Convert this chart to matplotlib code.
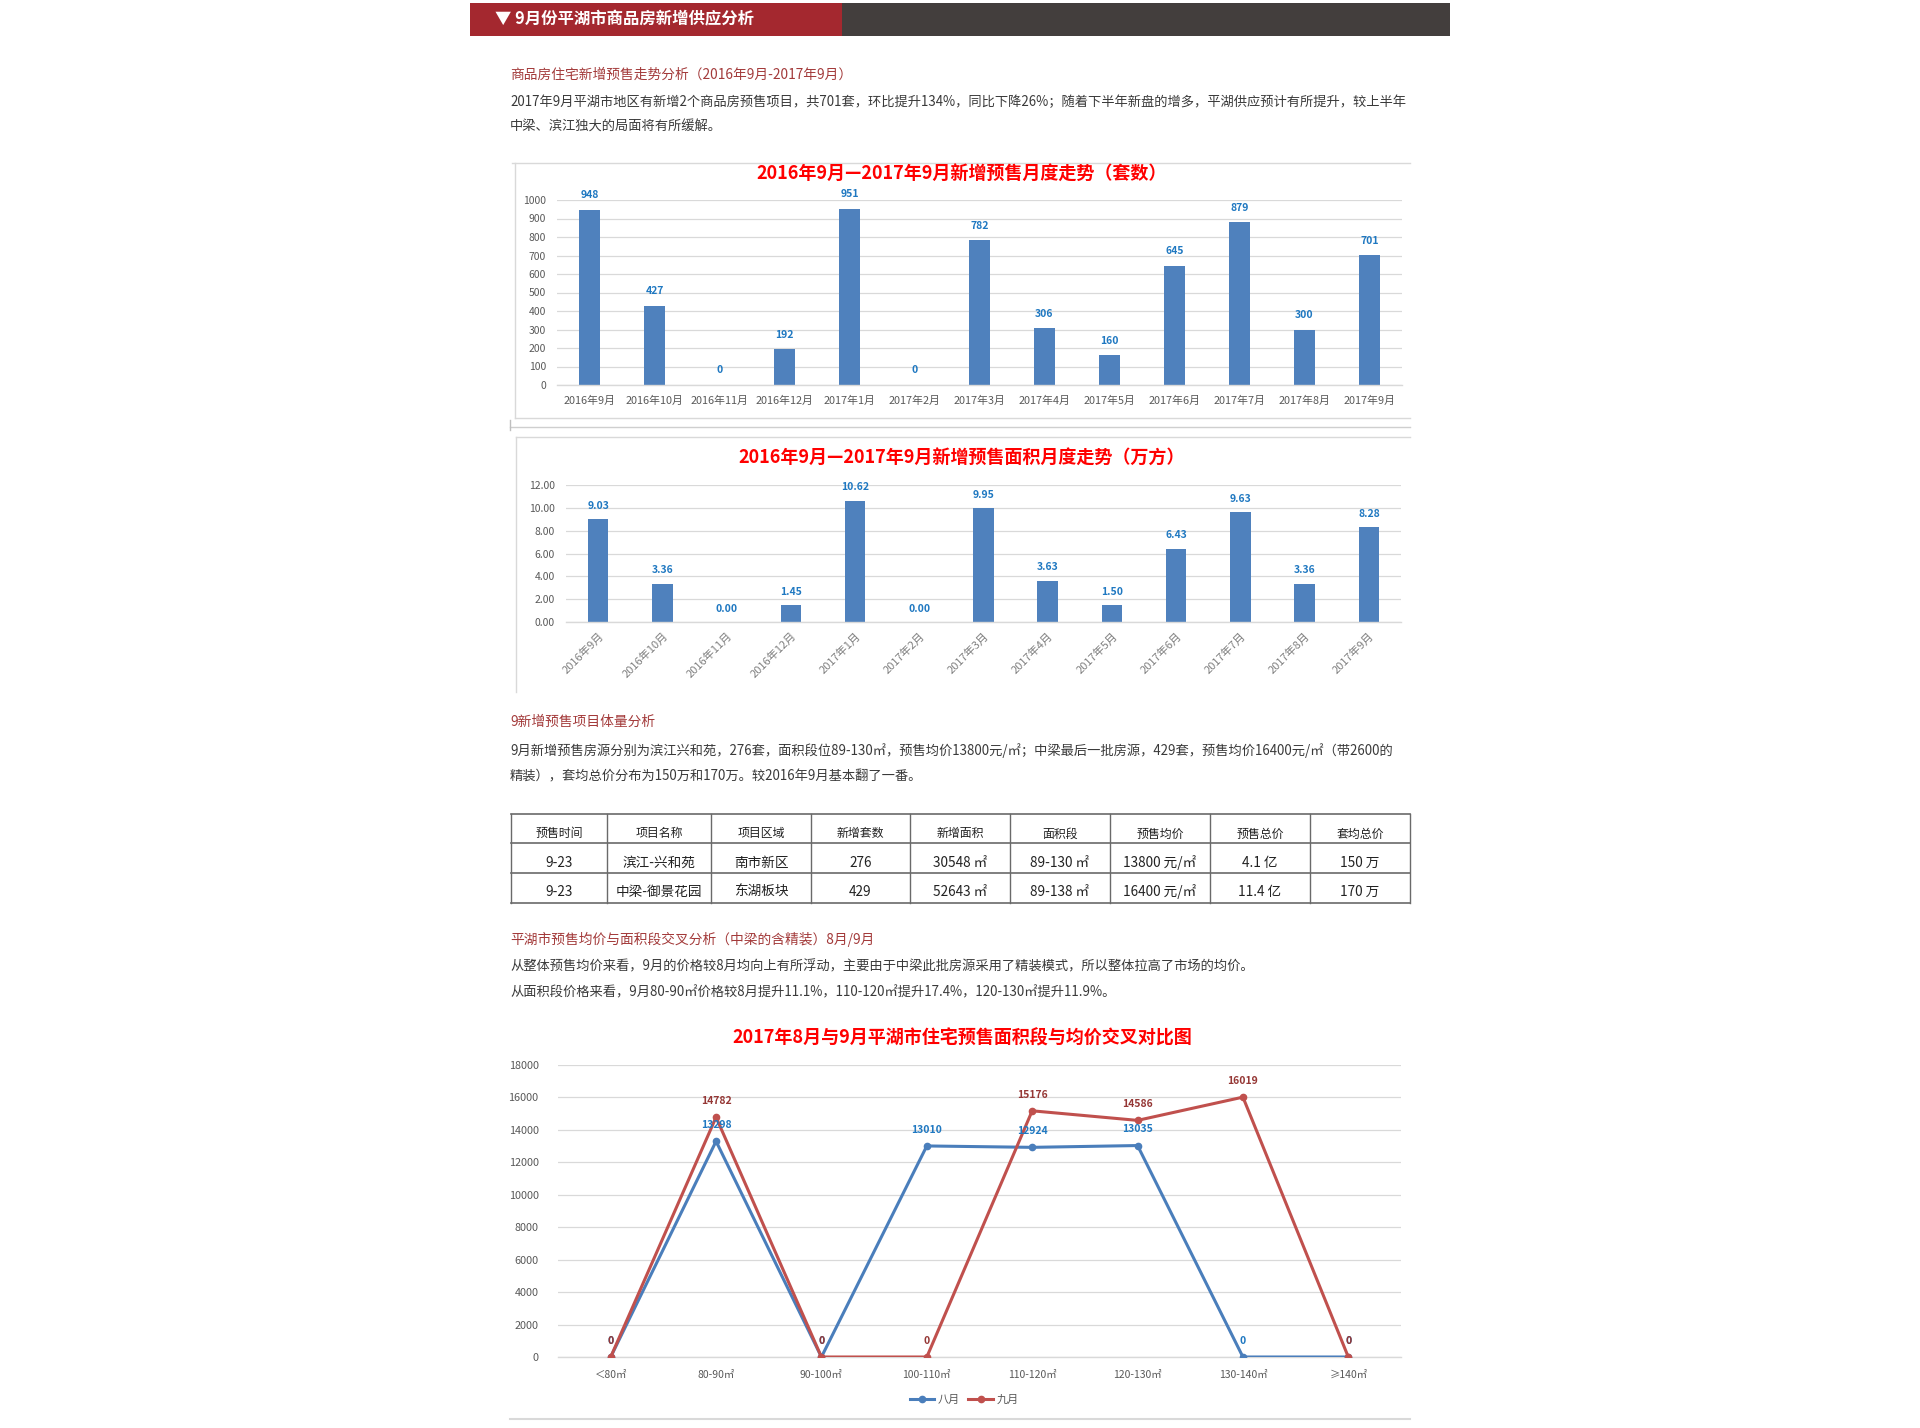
import matplotlib
matplotlib.use("Agg")
import matplotlib.pyplot as plt
from matplotlib.patches import Rectangle
from matplotlib.lines import Line2D

plt.rcParams['font.family'] = ['Noto Sans CJK SC', 'DejaVu Sans']

# ---------------- data ----------------
months = ["2016年9月", "2016年10月", "2016年11月", "2016年12月", "2017年1月", "2017年2月",
          "2017年3月", "2017年4月", "2017年5月", "2017年6月", "2017年7月", "2017年8月", "2017年9月"]
units = [948, 427, 0, 192, 951, 0, 782, 306, 160, 645, 879, 300, 701]
areas = [9.03, 3.36, 0.00, 1.45, 10.62, 0.00, 9.95, 3.63, 1.50, 6.43, 9.63, 3.36, 8.28]

segments = ["＜80㎡", "80-90㎡", "90-100㎡", "100-110㎡", "110-120㎡", "120-130㎡", "130-140㎡", "≥140㎡"]
aug_price = [0, 13298, 0, 13010, 12924, 13035, 0, 0]
sep_price = [0, 14782, 0, 0, 15176, 14586, 16019, 0]

table_header = ["预售时间", "项目名称", "项目区域", "新增套数", "新增面积", "面积段", "预售均价", "预售总价", "套均总价"]
table_rows = [
    ["9-23", "滨江-兴和苑", "南市新区", "276", "30548 ㎡", "89-130 ㎡", "13800 元/㎡", "4.1 亿", "150 万"],
    ["9-23", "中梁-御景花园", "东湖板块", "429", "52643 ㎡", "89-138 ㎡", "16400 元/㎡", "11.4 亿", "170 万"],
]

header_title = "▼ 9月份平湖市商品房新增供应分析"
sec1_title = "商品房住宅新增预售走势分析（2016年9月-2017年9月）"
sec1_lines = ["2017年9月平湖市地区有新增2个商品房预售项目，共701套，环比提升134%，同比下降26%；随着下半年新盘的增多，平湖供应预计有所提升，较上半年",
              "中梁、滨江独大的局面将有所缓解。"]
sec2_title = "9新增预售项目体量分析"
sec2_lines = ["9月新增预售房源分别为滨江兴和苑，276套，面积段位89-130㎡，预售均价13800元/㎡；中梁最后一批房源，429套，预售均价16400元/㎡（带2600的",
              "精装），套均总价分布为150万和170万。较2016年9月基本翻了一番。"]
sec3_title = "平湖市预售均价与面积段交叉分析（中梁的含精装）8月/9月"
sec3_lines = ["从整体预售均价来看，9月的价格较8月均向上有所浮动，主要由于中梁此批房源采用了精装模式，所以整体拉高了市场的均价。",
              "从面积段价格来看，9月80-90㎡价格较8月提升11.1%，110-120㎡提升17.4%，120-130㎡提升11.9%。"]

chart1_title = "2016年9月—2017年9月新增预售月度走势（套数）"
chart2_title = "2016年9月—2017年9月新增预售面积月度走势（万方）"
chart3_title = "2017年8月与9月平湖市住宅预售面积段与均价交叉对比图"

# ---------------- layout helpers ----------------
W, H = 1920, 1428
fig = plt.figure(figsize=(W / 100, H / 100), dpi=100)
fig.patch.set_facecolor("white")

bg = fig.add_axes([0, 0, 1, 1])
bg.set_xlim(0, W)
bg.set_ylim(H, 0)
bg.axis("off")


def add_ax(x0, y0, x1, y1):
    a = fig.add_axes([x0 / W, 1 - y1 / H, (x1 - x0) / W, (y1 - y0) / H])
    a.set_facecolor("none")
    return a


def hline(y, x0, x1, color="#d9d9d9", lw=1.0):
    bg.add_line(Line2D([x0, x1], [y, y], color=color, lw=lw))


def vline(x, y0, y1, color="#d9d9d9", lw=1.0):
    bg.add_line(Line2D([x, x], [y0, y1], color=color, lw=lw))


BAR = "#4f81bd"
LBL = "#1f78c1"
GRID = "#d9d9d9"
TICK = "#595959"
SEC = "#a33a3a"
BODY = "#3a3a3a"

# ---------------- header bar ----------------
bg.add_patch(Rectangle((470, 2.5), 372, 33, color="#a4282f", lw=0))
bg.add_patch(Rectangle((842, 2.5), 608, 33, color="#433e3d", lw=0))
bg.text(495, 19.5, header_title, color="white", fontsize=11.8, fontweight="bold", va="center", ha="left")

# ---------------- text sections ----------------
BODY_FS = 9.55
bg.text(510, 75, sec1_title, color=SEC, fontsize=9.9, va="center")
for i, s in enumerate(sec1_lines):
    bg.text(510, 102 + 25 * i, s, color=BODY, fontsize=BODY_FS, va="center")

bg.text(510, 722, sec2_title, color=SEC, fontsize=9.9, va="center")
for i, s in enumerate(sec2_lines):
    bg.text(510, 751 + 25 * i, s, color=BODY, fontsize=BODY_FS, va="center")

bg.text(510, 939, sec3_title, color=SEC, fontsize=9.9, va="center")
for i, s in enumerate(sec3_lines):
    bg.text(510, 966 + 26 * i, s, color=BODY, fontsize=BODY_FS, va="center")

# ---------------- chart frames ----------------
hline(163, 512, 1410)
vline(515, 163, 418)
hline(418, 515, 1410)
hline(427, 510, 1410, color="#cfcfcf")
vline(510, 420, 430, color="#bfbfbf")
hline(437, 516, 1410)
vline(516, 437, 692)
hline(1419, 510, 1410, color="#d9d9d9", lw=1.5)


def style_axes(a):
    for s in ["left", "right", "top"]:
        a.spines[s].set_visible(False)
    a.spines["bottom"].set_color(GRID)
    a.spines["bottom"].set_linewidth(1.0)
    a.tick_params(length=0, colors=TICK, labelsize=7.5)
    a.grid(axis="y", color=GRID, lw=0.9)
    a.set_axisbelow(True)


# ---------------- chart 1 ----------------
ax1 = add_ax(557, 200, 1402, 385)
x = list(range(len(months)))
ax1.bar(x, units, width=0.32, color=BAR, zorder=2)
ax1.set_xlim(-0.5, len(months) - 0.5)
ax1.set_ylim(0, 1000)
ax1.set_yticks(range(0, 1001, 100))
ax1.set_xticks(x)
ax1.set_xticklabels(months)
style_axes(ax1)
ax1.tick_params(axis="x", pad=8, labelsize=7.8)
ax1.tick_params(axis="y", pad=8)
for xi, v in zip(x, units):
    ax1.annotate(str(v), (xi, v), xytext=(0, 7), textcoords="offset points",
                 ha="center", va="bottom", color=LBL, fontsize=7.5, fontweight="bold")
bg.text(962, 173, chart1_title, color="#ff0000", fontsize=13, fontweight="bold", ha="center", va="center")

# ---------------- chart 2 ----------------
ax2 = add_ax(566, 485, 1401, 622)
ax2.bar(x, areas, width=0.32, color=BAR, zorder=2)
ax2.set_xlim(-0.5, len(months) - 0.5)
ax2.set_ylim(0, 12)
ax2.set_yticks(range(0, 13, 2))
ax2.set_yticklabels([f"{t:.2f}" for t in range(0, 13, 2)])
ax2.set_xticks(x)
ax2.set_xticklabels(months, rotation=45, ha="right", rotation_mode="anchor", style="italic")
style_axes(ax2)
ax2.tick_params(axis="x", pad=6, colors="#7f7f7f", labelsize=8)
ax2.tick_params(axis="y", pad=8)
for xi, v in zip(x, areas):
    ax2.annotate(f"{v:.2f}", (xi, v), xytext=(0, 6), textcoords="offset points",
                 ha="center", va="bottom", color=LBL, fontsize=7.5, fontweight="bold")
bg.text(962, 458, chart2_title, color="#ff0000", fontsize=13, fontweight="bold", ha="center", va="center")

# ---------------- table ----------------
col_x = [511, 607, 711, 811, 910, 1010, 1110, 1210, 1310, 1410]
row_y = [814, 843, 873, 903]
TB = "#6a6a6a"
for cx in col_x:
    vline(cx, row_y[0], row_y[-1], color=TB, lw=1.0)
for ry in row_y:
    hline(ry, col_x[0], col_x[-1], color=TB, lw=1.2)
text_y = [834, 863, 892]
for j, h in enumerate(table_header):
    bg.text((col_x[j] + col_x[j + 1]) / 2, text_y[0], h, ha="center", va="center", fontsize=8.6, color="#222222")
for r, row in enumerate(table_rows):
    for j, c in enumerate(row):
        bg.text((col_x[j] + col_x[j + 1]) / 2, text_y[r + 1], c, ha="center", va="center", fontsize=9.8, color="#222222")

# ---------------- chart 3 ----------------
ax3 = add_ax(558, 1065, 1401, 1357)
xs = list(range(len(segments)))
BLUE_L = "#4a7ebb"
RED_L = "#c0504d"
ax3.plot(xs, aug_price, color=BLUE_L, lw=2.2, marker="o", ms=4.5, label="八月", zorder=3)
ax3.plot(xs, sep_price, color=RED_L, lw=2.2, marker="o", ms=4.5, label="九月", zorder=4)
ax3.set_xlim(-0.5, len(segments) - 0.5)
ax3.set_ylim(0, 18000)
ax3.set_yticks(range(0, 18001, 2000))
ax3.set_xticks(xs)
ax3.set_xticklabels(segments)
style_axes(ax3)
ax3.tick_params(axis="y", pad=14, labelsize=7.8)
ax3.tick_params(axis="x", pad=9, labelsize=7.5)
for xi, v in zip(xs, aug_price):
    ax3.annotate(str(v), (xi, v), xytext=(0, 8), textcoords="offset points",
                 ha="center", va="bottom", color=LBL, fontsize=7.5, fontweight="bold", zorder=5)
for xi, v in zip(xs, sep_price):
    ax3.annotate(str(v), (xi, v), xytext=(0, 8), textcoords="offset points",
                 ha="center", va="bottom", color="#953735", fontsize=7.5, fontweight="bold", zorder=6)
bg.text(962, 1038, chart3_title, color="#ff0000", fontsize=13, fontweight="bold", ha="center", va="center")
h3, l3 = ax3.get_legend_handles_labels()
fig.legend(h3, l3, loc="center", bbox_to_anchor=(964 / W, 1 - 1400 / H), ncol=2, frameon=False,
           fontsize=8, handlelength=2.2, columnspacing=0.8, handletextpad=0.3, labelcolor=TICK)

fig.savefig("out.png", dpi=100, facecolor="white")
